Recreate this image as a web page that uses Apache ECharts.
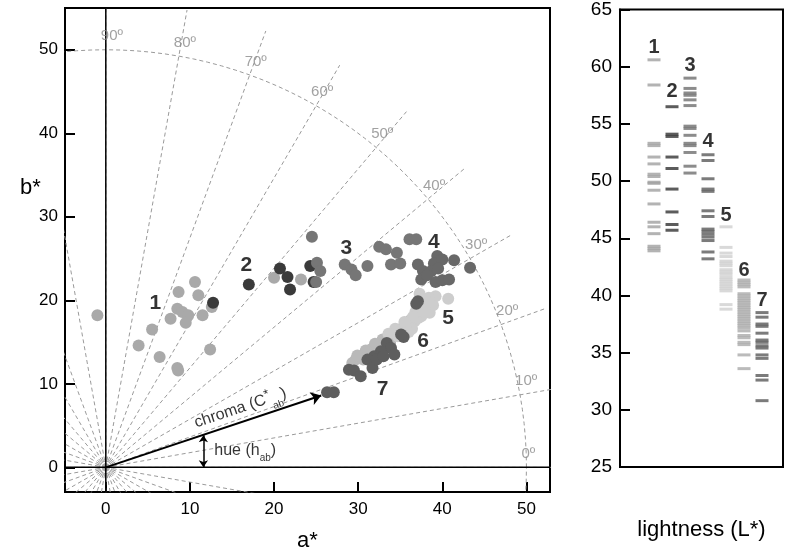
<!DOCTYPE html>
<html><head><meta charset="utf-8">
<script src="https://cdn.jsdelivr.net/npm/echarts@6/dist/echarts.min.js"></script>
<style>html,body{margin:0;padding:0;background:#fff}#c{width:786px;height:557px}</style>
</head><body><div id="c"></div>
<script>
// ---------- data ----------
const aTicks = [0, 10, 20, 30, 40, 50];
const bTicks = [0, 10, 20, 30, 40, 50];
const hueAngles = [0, 10, 20, 30, 40, 50, 60, 70, 80, 90];
const hueLabels = ['0º', '10º', '20º', '30º', '40º', '50º', '60º', '70º', '80º', '90º'];

// a*, b* points per group
const g1 = [[-1.0,18.2],[10.6,22.2],[8.65,21.0],[11.0,20.6],[8.5,19.0],[9.1,18.6],[9.8,18.2],[7.7,17.8],[9.5,17.3],[11.5,18.2],[12.6,19.2],[5.5,16.5],[3.9,14.6],[6.4,13.2],[8.5,11.9],[8.6,11.6],[12.4,14.1],[20.0,22.7],[23.2,22.5]];
const g2 = [[17.0,21.9],[20.7,23.8],[21.6,22.8],[21.9,21.3],[24.3,24.1],[24.7,22.2],[12.75,19.7]];
const g3 = [[24.5,27.6],[25.1,24.5],[25.5,23.5],[25.0,22.2],[28.4,24.3],[29.2,23.7],[29.7,23.0],[31.1,24.1],[32.5,26.4],[33.3,26.1],[34.6,25.7],[33.9,24.3],[35.0,24.4],[36.1,27.3],[36.9,27.3]];
const g4 = [[37.1,24.3],[39.4,25.3],[39.0,24.4],[40.0,24.9],[41.4,24.8],[43.3,23.9],[37.7,23.5],[38.7,23.5],[37.5,22.5],[39.2,22.2],[40.0,22.4],[40.8,22.5],[38.2,23.0],[39.5,23.8]];
const g5 = [[40.7,20.2],[39.2,20.5],[37.3,20.8],[38.9,19.4],[38.5,18.5],[37.5,18.1],[38.0,19.2],[36.7,17.5],[37.2,17.9],[35.9,16.9],[36.4,16.6],[35.1,16.3],[34.7,15.7],[36.8,18.6],[38.4,20.3],[37.9,18.6],[36.5,18.0],[35.5,17.4],[34.4,16.6],[33.6,16.0],[38.2,19.8],[36.0,16.2]];
const g6 = [[34.2,15.9],[33.6,15.3],[33.1,14.7],[32.4,14.5],[31.5,14.1],[31.0,13.6],[30.4,13.3],[29.7,12.9],[29.3,12.5],[35.7,17.2],[36.2,17.6],[34.9,16.5],[33.8,14.9],[32.0,13.8],[30.6,12.9],[37.6,19.3],[32.9,15.3],[32.0,14.8],[30.9,14.0],[29.9,13.4],[35.2,16.6],[34.0,15.6]];
const g7 = [[37.1,19.9],[36.9,19.6],[35.4,15.6],[35.1,15.9],[33.4,14.9],[33.9,14.3],[34.3,13.5],[32.7,13.9],[31.9,13.3],[31.1,12.9],[31.7,11.9],[28.9,11.7],[29.5,11.6],[30.3,10.9],[26.3,9.0],[27.1,9.0],[32.2,12.9],[33.0,13.3]];

// group labels on the a*b* plane
const groupNames = ['1','2','3','4','5','6','7'];
const groupLabelPos = [[5.9,19.6],[16.7,24.2],[28.6,26.2],[39.0,26.9],[40.7,17.9],[37.7,15.1],[32.9,9.4]];

// lightness (L*) values per group
const L1 = [60.6,58.4,53.3,53.1,52.1,51.5,50.6,50.4,49.9,49.8,49.2,48.0,46.4,46.0,45.4,44.3,44.1,43.9];
const L2 = [56.5,54.1,53.9,52.1,51.1,49.3,47.3,46.2,45.7];
const L3 = [59.0,58.1,57.7,57.5,57.1,56.6,54.8,54.6,54.0,53.3,53.1,52.5,51.3,50.7];
const L4 = [52.3,51.8,50.2,49.3,49.1,47.4,46.9,45.8,45.6,45.35,45.1,44.8,43.8,43.2];
const L5 = [46.0,44.2,43.7,43.4,43.0,42.8,42.6,42.25,42.05,41.85,41.6,41.4,41.2,41.0,40.8,40.6,40.4,39.2,38.8];
const L6 = [41.35,41.15,40.95,40.75,40.15,39.95,39.75,39.55,39.35,39.15,38.95,38.75,38.55,38.35,38.15,37.95,37.75,37.55,37.35,37.15,36.9,36.5,36.3,35.9,35.7,34.8,33.6];
const L7 = [38.5,38.1,37.5,37.3,36.7,36.1,35.9,35.6,35.4,34.8,34.5,33.0,32.6,30.8];
const lightLabelL = [61.7,57.8,60.1,53.5,47.0,42.2,39.6];

// chroma / hue annotation vector
const chromaVec = [25.6, 8.6];
const hueArrow = [[11.6, 0], [11.6, 3.85]];

// ---------- styling ----------
const FONT = '"Liberation Sans", Arial, sans-serif';
const ptColors = ['#a9a9a9','#3a3a3a','#767676','#686868','#cdcdcd','#b9b9b9','#5e5e5e'];
const barColors = ['#a0a0a0','#333333','#6f6f6f','#5a5a5a','#d0d0d0','#aaaaaa','#5a5a5a'];
const X0 = [-4.85, 52.8], Y0 = [-2.95, 55];
const RAY = 55.6, ARC = 50;

const series = [];
// radial dashed rays every 10 degrees
for (let d = 0; d < 360; d += 10) {
  const t = d * Math.PI / 180;
  series.push({type:'line', xAxisIndex:0, yAxisIndex:0, silent:true, showSymbol:false, symbol:'none', z:1,
    lineStyle:{color:'#9a9a9a', width:1, type:[4,3]},
    data:[[0,0],[RAY*Math.cos(t), RAY*Math.sin(t)]]});
}
// chroma 50 circle
const arcPts = [];
for (let d = 0; d <= 360; d += 2) { const t = d*Math.PI/180; arcPts.push([ARC*Math.cos(t), ARC*Math.sin(t)]); }
series.push({type:'line', xAxisIndex:0, yAxisIndex:0, silent:true, showSymbol:false, symbol:'none', z:1, smooth:false,
  lineStyle:{color:'#9a9a9a', width:1, type:[4,3]}, data:arcPts});
// small rings at origin
[0.4, 0.75].forEach(r => {
  const pts = [];
  for (let d = 0; d <= 360; d += 20) { const t = d*Math.PI/180; pts.push([r*Math.cos(t), r*Math.sin(t)]); }
  series.push({type:'line', xAxisIndex:0, yAxisIndex:0, silent:true, showSymbol:false, symbol:'none', z:1,
    lineStyle:{color:'#aaaaaa', width:1.2}, data:pts});
});
// zero axes lines
series.push({type:'line', xAxisIndex:0, yAxisIndex:0, silent:true, showSymbol:false, symbol:'none', z:2,
  lineStyle:{color:'#000', width:1.5}, data:[[X0[0],0],[X0[1],0]]});
series.push({type:'line', xAxisIndex:0, yAxisIndex:0, silent:true, showSymbol:false, symbol:'none', z:2,
  lineStyle:{color:'#000', width:1.5}, data:[[0,Y0[0]],[0,Y0[1]]]});
// hue degree labels
series.push({type:'scatter', xAxisIndex:0, yAxisIndex:0, silent:true, symbolSize:1, z:3,
  itemStyle:{color:'transparent'},
  data: hueAngles.map((d,i) => ({name:hueLabels[i], value:[ARC*Math.cos(d*Math.PI/180), ARC*Math.sin(d*Math.PI/180)]})),
  label:{show:true, position:'inside', align:'left', verticalAlign:'bottom', offset:[-5,-6],
    formatter:p=>p.name, color:'#8a8a8a', fontSize:15, fontFamily:FONT}});
// scatter groups
const groups = [g1,g2,g3,g4,g6,g5,g7];
const gIdx = [0,1,2,3,5,4,6];
groups.forEach((g,k) => {
  series.push({type:'scatter', xAxisIndex:0, yAxisIndex:0, symbolSize:12, z:5,
    itemStyle:{color:ptColors[gIdx[k]], opacity:1}, data:g});
});
// chroma arrow
series.push({type:'lines', coordinateSystem:'cartesian2d', xAxisIndex:0, yAxisIndex:0, silent:true, z:6,
  symbol:['none','arrow'], symbolSize:10, lineStyle:{color:'#000', width:2, opacity:1},
  data:[{coords:[[0,0], chromaVec]}]});
// hue arrow
series.push({type:'lines', coordinateSystem:'cartesian2d', xAxisIndex:0, yAxisIndex:0, silent:true, z:6,
  symbol:['arrow','arrow'], symbolSize:7, lineStyle:{color:'#000', width:1.5, opacity:1},
  data:[{coords:hueArrow}]});
// text annotations
const ang = Math.atan2(chromaVec[1], chromaVec[0]) * 180 / Math.PI;
series.push({type:'scatter', xAxisIndex:0, yAxisIndex:0, silent:true, symbolSize:1, z:7,
  itemStyle:{color:'transparent'},
  data:[{value:[16.0,7.1], name:'chroma'}],
  label:{show:true, position:'inside', rotate:ang, color:'#000', fontSize:16, fontFamily:FONT,
    formatter:'chroma (C{sup|*}{sub|ab})',
    rich:{sup:{fontSize:13, verticalAlign:'top', lineHeight:22, color:'#000'}, sub:{fontSize:10, verticalAlign:'bottom', lineHeight:22, color:'#000', padding:[0,0,-3,0]}}}});
series.push({type:'scatter', xAxisIndex:0, yAxisIndex:0, silent:true, symbolSize:1, z:7,
  itemStyle:{color:'transparent'},
  data:[{value:[12.9,2.0], name:'hue'}],
  label:{show:true, position:'inside', align:'left', color:'#000', fontSize:16, fontFamily:FONT,
    formatter:'hue (h{sub|ab})',
    rich:{sub:{fontSize:10, verticalAlign:'bottom', lineHeight:20, color:'#000', padding:[0,0,-3,0]}}}});
series.push({type:'scatter', xAxisIndex:0, yAxisIndex:0, silent:true, symbolSize:1, z:7,
  itemStyle:{color:'transparent'},
  data: groupLabelPos.map((p,i)=>({value:p, name:groupNames[i]})),
  label:{show:true, position:'inside', formatter:p=>p.name, color:'#000', fontSize:21, fontWeight:'bold', fontFamily:FONT}});

// lightness bars
[L1,L2,L3,L4,L5,L6,L7].forEach((L,i) => {
  series.push({type:'scatter', xAxisIndex:1, yAxisIndex:1, silent:true, symbol:'rect', symbolSize:[13,3], z:5,
    itemStyle:{color:barColors[i]}, data:L.map(v=>[i+1, v])});
});
series.push({type:'scatter', xAxisIndex:1, yAxisIndex:1, silent:true, symbolSize:1, z:7,
  itemStyle:{color:'transparent'},
  data: lightLabelL.map((v,i)=>({value:[i+1, v], name:groupNames[i]})),
  label:{show:true, position:'inside', formatter:p=>p.name, color:'#000', fontSize:20, fontWeight:'bold', fontFamily:FONT}});

const axLine = {show:true, onZero:false, lineStyle:{color:'#000', width:2}};
const tickStyle = {color:'#000', width:2};
const option = {
  animation:false,
  backgroundColor:'#fff',
  textStyle:{fontFamily:FONT},
  grid:[
    {left:65, top:8, width:485, height:485, show:true, borderColor:'#000', borderWidth:2, backgroundColor:'transparent'},
    {left:620, top:9, width:163, height:458, show:true, borderColor:'#000', borderWidth:2, backgroundColor:'transparent'}
  ],
  xAxis:[
    {gridIndex:0, type:'value', min:X0[0], max:X0[1], axisLine:axLine, splitLine:{show:false},
      axisTick:{show:true, inside:true, length:10, customValues:aTicks, lineStyle:tickStyle},
      axisLabel:{show:true, customValues:aTicks, fontSize:17, color:'#000', margin:9, fontFamily:FONT},
      name:'a*', nameLocation:'middle', nameGap:38, nameTextStyle:{fontSize:22, color:'#000', fontFamily:FONT}},
    {gridIndex:1, type:'value', min:-0.889, max:8.167, axisLine:axLine, splitLine:{show:false},
      axisTick:{show:false}, axisLabel:{show:false},
      name:'lightness (L*)', nameLocation:'middle', nameGap:52, nameTextStyle:{fontSize:22, color:'#000', fontFamily:FONT}}
  ],
  yAxis:[
    {gridIndex:0, type:'value', min:Y0[0], max:Y0[1], axisLine:axLine, splitLine:{show:false},
      axisTick:{show:true, inside:true, length:10, customValues:bTicks, lineStyle:tickStyle},
      axisLabel:{show:true, customValues:bTicks, fontSize:17, color:'#000', margin:7, fontFamily:FONT}},
    {gridIndex:1, type:'value', min:25, max:65, interval:5, axisLine:axLine, splitLine:{show:false},
      axisTick:{show:true, inside:true, length:10, lineStyle:tickStyle},
      axisLabel:{fontSize:19, color:'#000', margin:8, fontFamily:FONT}}
  ],
  graphic:[{type:'text', left:20, top:177, style:{text:'b*', fontSize:22, fill:'#000', fontFamily:FONT}}],
  series:series
};
const chart = echarts.init(document.getElementById('c'), null, {renderer:'canvas'});
chart.setOption(option);
</script></body></html>
